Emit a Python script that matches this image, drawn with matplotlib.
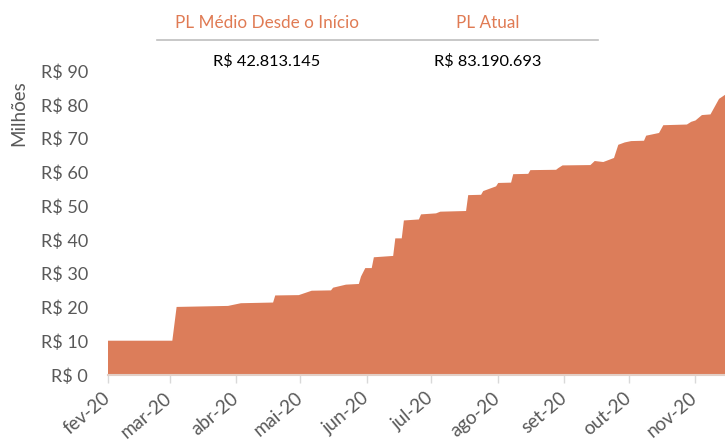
import pandas as pd
import matplotlib
matplotlib.use('Agg')
import matplotlib.pyplot as plt

# PL (R$ milhões)
datas = ['2020-02-01', '2020-03-02', '2020-03-04', '2020-03-28', '2020-04-03',
         '2020-04-18', '2020-04-19', '2020-04-30', '2020-05-06', '2020-05-15',
         '2020-05-16', '2020-05-22', '2020-05-28', '2020-05-29', '2020-05-31',
         '2020-06-03', '2020-06-04', '2020-06-13', '2020-06-14', '2020-06-17',
         '2020-06-18', '2020-06-25', '2020-06-26', '2020-07-03', '2020-07-05',
         '2020-07-17', '2020-07-18', '2020-07-24', '2020-07-25', '2020-07-31',
         '2020-08-01', '2020-08-07', '2020-08-08', '2020-08-15', '2020-08-16',
         '2020-08-28', '2020-08-29', '2020-08-31', '2020-09-13', '2020-09-15',
         '2020-09-19', '2020-09-24', '2020-09-26', '2020-09-29', '2020-10-02',
         '2020-10-08', '2020-10-09', '2020-10-15', '2020-10-17', '2020-10-28',
         '2020-10-30', '2020-11-01', '2020-11-04', '2020-11-08', '2020-11-12',
         '2020-11-15']
pl = [10.3, 10.3, 20.3, 20.6, 21.4,
      21.6, 23.7, 23.8, 25.1, 25.2,
      26.0, 26.9, 27.1, 29.3, 31.8,
      31.8, 35.0, 35.4, 40.6, 40.6,
      45.9, 46.2, 47.7, 48.0, 48.5,
      48.7, 53.4, 53.5, 54.6, 56.0,
      57.0, 57.1, 59.6, 59.7, 60.8,
      60.9, 61.4, 62.2, 62.3, 63.5,
      63.2, 64.4, 68.3, 69.0, 69.4,
      69.5, 71.0, 71.8, 74.1, 74.3,
      75.1, 75.5, 77.1, 77.3, 81.9,
      83.19]

meses = ['2020-02-01', '2020-03-01', '2020-04-01', '2020-05-01', '2020-06-01',
         '2020-07-01', '2020-08-01', '2020-09-01', '2020-10-01', '2020-11-01']
meses_lbl = ['fev-20', 'mar-20', 'abr-20', 'mai-20', 'jun-20',
             'jul-20', 'ago-20', 'set-20', 'out-20', 'nov-20']
y_ticks = [0, 10, 20, 30, 40, 50, 60, 70, 80, 90]

cab_titulos = ['PL Médio Desde o Início', 'PL Atual']
cab_valores = ['R$ 42.813.145', 'R$ 83.190.693']

laranja = '#DC7D5A'
cinza = '#595959'
plt.rcParams['font.family'] = ['Lato', 'DejaVu Sans']

x = pd.to_datetime(datas)
fig = plt.figure(figsize=(7.25, 4.43), dpi=100)
ax = fig.add_axes([107.5 / 725, (443 - 375) / 443, 1 - 107.5 / 725, (375 - 71) / 443])

ax.fill_between(x, 0, pl, color=laranja, lw=0, zorder=1)
ax.set_xlim(x[0], x[-1])
ax.set_ylim(0, 90)

ax.set_yticks(y_ticks)
ax.set_yticklabels(['R$ %d' % v for v in y_ticks])
ax.tick_params(axis='y', length=0, pad=14, labelsize=13, labelcolor=cinza)

ax.set_xticks(pd.to_datetime(meses))
ax.set_xticklabels(meses_lbl, rotation=40, ha='right', va='center', rotation_mode='anchor')
ax.tick_params(axis='x', length=6, width=1, color='#d9d9d9', pad=9,
               labelsize=13.5, labelcolor=cinza)

for s in ['top', 'right', 'left']:
    ax.spines[s].set_visible(False)
ax.spines['bottom'].set_color('#e2cfc6')
ax.spines['bottom'].set_linewidth(1.5)

fig.text(19 / 725, 1 - 113 / 443, 'Milhões', rotation=90, ha='center', va='center',
         fontsize=13.5, color=cinza)

# cabeçalho
W, H = 725, 443
for cx, t, v in zip([267, 488], cab_titulos, cab_valores):
    fig.text(cx / W, 1 - 23 / H, t, ha='center', va='center', fontsize=12.3, color='#E07B54')
    fig.text(cx / W, 1 - 61 / H, v, ha='center', va='center', fontsize=11.8, color='black')
fig.add_artist(plt.Line2D([157 / W, 598 / W], [1 - 39.5 / H, 1 - 39.5 / H],
                          color='#bfbfbf', lw=1.2))

fig.savefig('out.png', dpi=100)
